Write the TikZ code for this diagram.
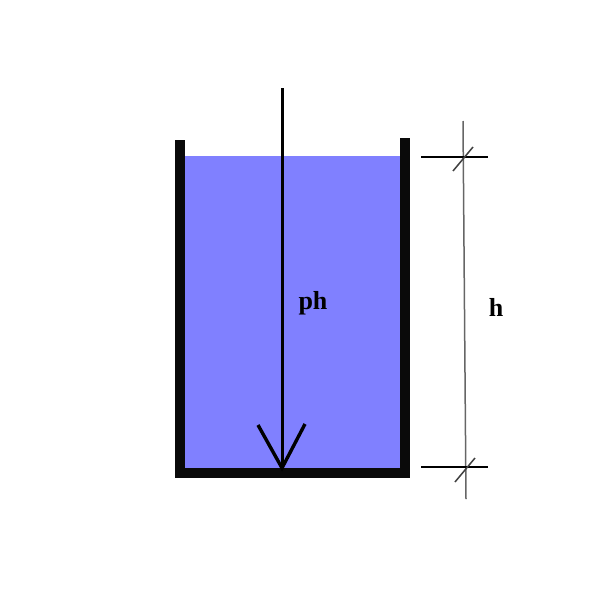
\documentclass[tikz,border=0pt]{standalone}
\usepackage{fontspec}
\setmainfont{Liberation Serif}
\definecolor{fluid}{RGB}{128,128,255}
\definecolor{wallc}{RGB}{10,10,10}
\begin{document}
\begin{tikzpicture}[x=1pt, y=-1pt,
    wall/.style={fill=wallc},
    label/.style={font=\fontsize{26}{30}\selectfont\bfseries, inner sep=0pt},
    dimline/.style={line width=1.5pt, black!60},
    extline/.style={line width=1.5pt, black},
    tick/.style={line width=1.5pt, black!75}]
    \useasboundingbox (0,0) rectangle (600,600);
    % fluid and walls
    \fill[fluid] (185,156) rectangle (400,468);
    \fill[wall] (175,140) rectangle (185,478);
    \fill[wall] (400,138) rectangle (410,478);
    \fill[wall] (175,468) rectangle (410,478);
    % pressure arrow
    \coordinate (top) at (282,88);
    \coordinate (tip) at (282,468);
    \draw[line width=3pt] (top) -- (tip);
    \draw[line width=3.4pt, line join=miter] ([shift={(-24,-43)}]tip) -- (tip) -- ([shift={(23,-44)}]tip);
    \node[label] (ph) at (313,303) {ph};
    % height dimension
    \coordinate (dtop) at (463,121);
    \coordinate (dbot) at (466,499);
    \draw[dimline] (dtop) -- (dbot);
    \draw[extline] (421,157) -- (488,157);
    \draw[extline] (421,467) -- (488,467);
    \draw[tick] (453,171) -- (473,147);
    \draw[tick] (455,482) -- (475,458);
    \node[label] (hlab) at (496,307) {h};
\end{tikzpicture}
\end{document}
